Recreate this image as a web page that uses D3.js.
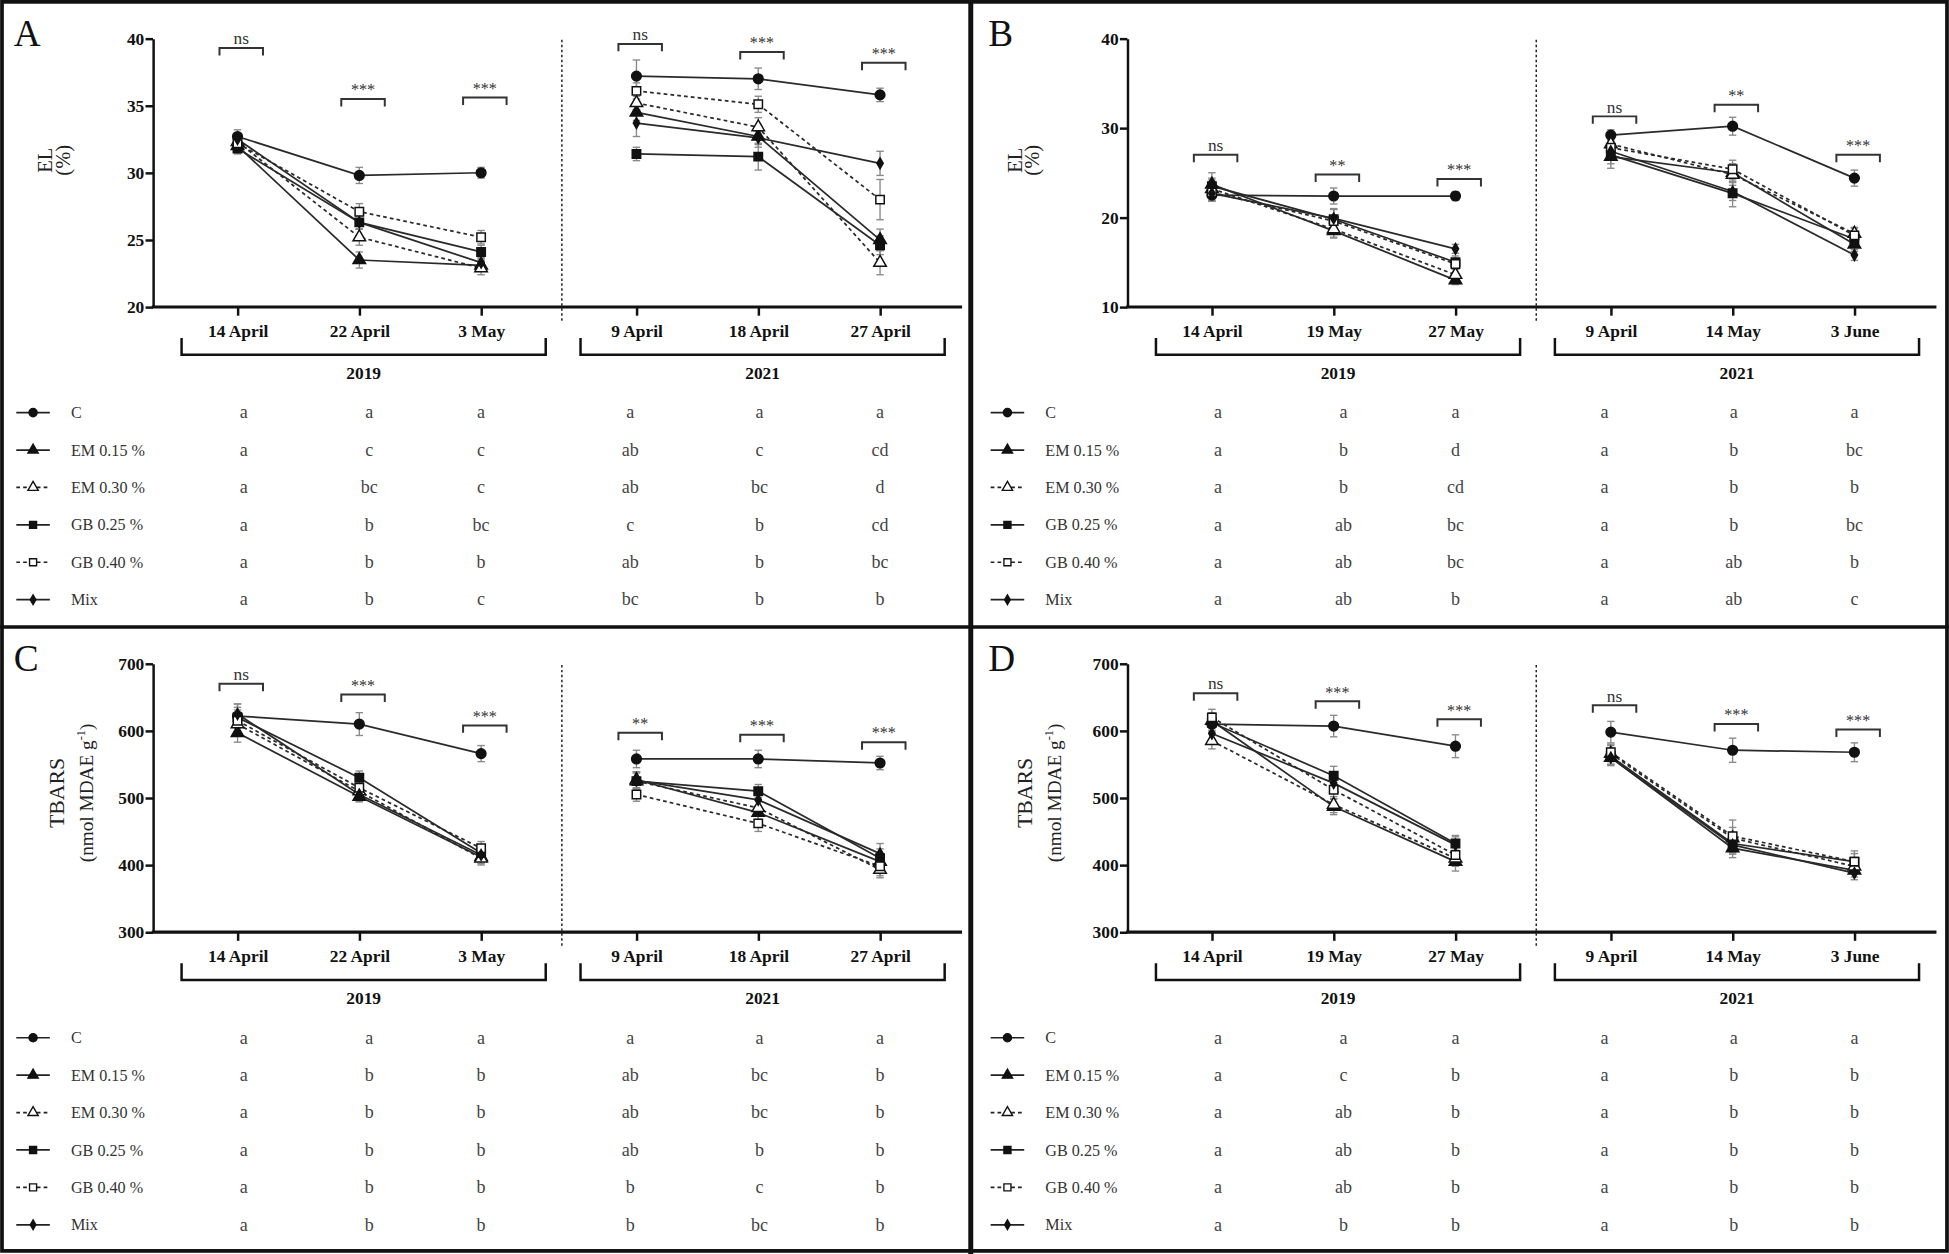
<!DOCTYPE html>
<html>
<head>
<meta charset="utf-8">
<script src="https://cdn.jsdelivr.net/npm/d3@7"></script>
<style>
  html, body { margin: 0; padding: 0; background: #fff; }
  svg { display: block; }
  text { font-family: "Liberation Serif", "Times New Roman", serif; }
</style>
</head>
<body>
<script>
// series, dates and years
const seriesNames = ["C", "EM 0.15 %", "EM 0.30 %", "GB 0.25 %", "GB 0.40 %", "Mix"];
const datesAC = ["14 April", "22 April", "3 May", "9 April", "18 April", "27 April"];
const datesBD = ["14 April", "19 May", "27 May", "9 April", "14 May", "3 June"];
const years = ["2019", "2021"];

// A : EL (%)
const elA = [
  [32.7, 29.8, 30.0, 37.2, 37.0, 35.8],
  [32.0, 23.5, 23.1, 34.5, 32.7, 25.0],
  [32.3, 25.2, 22.9, 35.2, 33.4, 23.3],
  [31.8, 26.3, 24.1, 31.4, 31.2, 24.6],
  [32.2, 27.1, 25.2, 36.1, 35.1, 28.0],
  [32.5, 26.3, 23.3, 33.7, 32.6, 30.7]
];
const elAErr = [
  [0.5, 0.6, 0.4, 1.2, 0.8, 0.5],
  [0.5, 0.6, 0.4, 0.6, 0.8, 0.8],
  [0.5, 0.6, 0.5, 0.5, 0.7, 0.9],
  [0.4, 0.5, 0.5, 0.5, 1.0, 0.7],
  [0.5, 0.6, 0.5, 0.6, 0.6, 1.5],
  [0.4, 0.5, 0.4, 1.0, 0.5, 0.9]
];
const lettersA = [
  ["a", "a", "a", "a", "a", "a"],
  ["a", "c", "c", "ab", "c", "cd"],
  ["a", "bc", "c", "ab", "bc", "d"],
  ["a", "b", "bc", "c", "b", "cd"],
  ["a", "b", "b", "ab", "b", "bc"],
  ["a", "b", "c", "bc", "b", "b"]
];
const sigTextA = ["ns", "***", "***", "ns", "***", "***"];
const sigLevelA = [39.3, 35.5, 35.6, 39.6, 39.0, 38.2];

// B : EL (%)
const elB = [
  [22.5, 22.4, 22.4, 29.2, 30.2, 24.4],
  [23.7, 18.5, 13.0, 26.8, 25.0, 17.0],
  [23.2, 18.7, 13.6, 28.2, 24.8, 18.2],
  [23.5, 19.8, 15.0, 27.0, 22.7, 17.6],
  [22.8, 19.6, 14.8, 27.8, 25.4, 18.0],
  [22.7, 19.9, 16.5, 27.4, 22.9, 15.8]
];
const elBErr = [
  [0.7, 0.9, 0.5, 0.6, 1.0, 0.9],
  [1.3, 0.8, 0.5, 0.8, 1.0, 0.8],
  [1.0, 0.9, 0.6, 0.9, 1.2, 0.7],
  [0.9, 1.2, 0.7, 1.5, 1.5, 0.7],
  [0.9, 1.3, 0.6, 1.0, 1.0, 0.8],
  [0.8, 1.0, 0.5, 0.8, 1.0, 0.6]
];
const lettersB = [
  ["a", "a", "a", "a", "a", "a"],
  ["a", "b", "d", "a", "b", "bc"],
  ["a", "b", "cd", "a", "b", "b"],
  ["a", "ab", "bc", "a", "b", "bc"],
  ["a", "ab", "bc", "a", "ab", "b"],
  ["a", "ab", "b", "a", "ab", "c"]
];
const sigTextB = ["ns", "**", "***", "ns", "**", "***"];
const sigLevelB = [27.0, 24.8, 24.3, 31.3, 32.6, 27.0];

// C : TBARS
const tbC = [
  [622, 610, 566, 558, 558, 552],
  [597, 502, 412, 527, 478, 405],
  [610, 510, 410, 525, 485, 393],
  [620, 530, 418, 525, 510, 410],
  [615, 515, 425, 505, 462, 398],
  [625, 505, 415, 526, 497, 417]
];
const tbCErr = [
  [18, 17, 12, 13, 13, 10],
  [14, 8, 10, 12, 10, 10],
  [15, 10, 10, 12, 12, 12],
  [15, 10, 10, 14, 10, 14],
  [16, 12, 10, 10, 12, 14],
  [15, 10, 10, 12, 10, 15]
];
const lettersC = [
  ["a", "a", "a", "a", "a", "a"],
  ["a", "b", "b", "ab", "bc", "b"],
  ["a", "b", "b", "ab", "bc", "b"],
  ["a", "b", "b", "ab", "b", "b"],
  ["a", "b", "b", "b", "c", "b"],
  ["a", "b", "b", "b", "bc", "b"]
];
const sigTextC = ["ns", "***", "***", "**", "***", "***"];
const sigLevelC = [670, 654, 608, 597, 594, 583];

// D : TBARS
const tbD = [
  [610, 607, 577, 598, 571, 568],
  [615, 487, 405, 560, 425, 392],
  [585, 490, 410, 566, 440, 398],
  [612, 533, 432, 562, 432, 405],
  [620, 512, 415, 568, 443, 405],
  [596, 522, 430, 560, 430, 388]
];
const tbDErr = [
  [12, 16, 17, 16, 18, 14],
  [12, 12, 14, 12, 14, 10],
  [12, 12, 12, 12, 16, 10],
  [12, 14, 12, 12, 14, 12],
  [12, 14, 12, 12, 24, 16],
  [12, 12, 12, 10, 14, 10]
];
const lettersD = [
  ["a", "a", "a", "a", "a", "a"],
  ["a", "c", "b", "a", "b", "b"],
  ["a", "ab", "b", "a", "b", "b"],
  ["a", "ab", "b", "a", "b", "b"],
  ["a", "ab", "b", "a", "b", "b"],
  ["a", "b", "b", "a", "b", "b"]
];
const sigTextD = ["ns", "***", "***", "ns", "***", "***"];
const sigLevelD = [656, 644, 617, 638, 610, 602];

const yTicksEL_A = [20, 25, 30, 35, 40];
const yTicksEL_B = [10, 20, 30, 40];
const yTicksTB = [300, 400, 500, 600, 700];

// marker / line styles per series
const markerTypes = [d3.symbolCircle, d3.symbolTriangle, d3.symbolTriangle, d3.symbolSquare, d3.symbolSquare, d3.symbolDiamond];
const markerFill = ["#111", "#111", "#fff", "#111", "#fff", "#111"];
const markerSize = [48, 44, 44, 46, 46, 22];
const legendSize = [34, 30, 30, 32, 32, 18];
const dashes = [null, null, "3,2.5", null, "3,2.5", null];

// layout is drawn in the 1568x1009 space of the figure, scaled by viewBox
const W = 1568, H = 1009;
const svg = d3.select("body").append("svg")
  .attr("width", 1949)
  .attr("height", 1254)
  .attr("viewBox", `0 0 ${W} ${H}`)
  .attr("font-family", "Liberation Serif, serif");

svg.append("rect").attr("width", W).attr("height", H).attr("fill", "#fff");

const panels = [
  {name: "A", ox: 0, oy: 0, dates: datesAC, values: elA, errors: elAErr, letters: lettersA,
   sigText: sigTextA, sigLevel: sigLevelA, yDomain: [20, 40], yTicks: yTicksEL_A, title: "EL", titleX: 42},
  {name: "B", ox: 784, oy: 0, dates: datesBD, values: elB, errors: elBErr, letters: lettersB,
   sigText: sigTextB, sigLevel: sigLevelB, yDomain: [10, 40], yTicks: yTicksEL_B, title: "EL", titleX: 38},
  {name: "C", ox: 0, oy: 503, dates: datesAC, values: tbC, errors: tbCErr, letters: lettersC,
   sigText: sigTextC, sigLevel: sigLevelC, yDomain: [300, 700], yTicks: yTicksTB, title: "TBARS", titleX: 51},
  {name: "D", ox: 784, oy: 503, dates: datesBD, values: tbD, errors: tbDErr, letters: lettersD,
   sigText: sigTextD, sigLevel: sigLevelD, yDomain: [300, 700], yTicks: yTicksTB, title: "TBARS", titleX: 46}
];

const letterCols = [196, 297, 387, 507, 611, 708];

function drawPanel(p) {
  const g = svg.append("g").attr("transform", `translate(${p.ox},${p.oy})`);

  const y = d3.scaleLinear().domain(p.yDomain).range([247, 31]);
  const x19 = d3.scalePoint().domain(p.dates.slice(0, 3)).range([191, 387]);
  const x21 = d3.scalePoint().domain(p.dates.slice(3)).range([512, 708]);
  const xAt = i => i < 3 ? x19(p.dates[i]) : x21(p.dates[i]);

  // panel letter
  g.append("text").attr("x", 11).attr("y", 37)
    .attr("font-size", 30).attr("fill", "#111").text(p.name);

  // y axis
  const ya = g.append("g").attr("transform", "translate(123,0)")
    .call(d3.axisLeft(y).tickValues(p.yTicks).tickSize(6).tickPadding(1).tickSizeOuter(0));
  ya.attr("font-family", "Liberation Serif, serif");
  ya.select(".domain").attr("stroke", "#111").attr("stroke-width", 2);
  ya.selectAll(".tick line").attr("stroke", "#111").attr("stroke-width", 2);
  ya.selectAll(".tick text").attr("font-weight", "bold")
    .attr("font-size", 14).attr("fill", "#111");

  // y title
  const tt = g.append("text")
    .attr("transform", `translate(${p.titleX},${p.title === "EL" ? 129 : 135}) rotate(-90)`)
    .attr("text-anchor", "middle").attr("fill", "#222");
  if (p.title === "EL") {
    tt.attr("font-size", 16.5);
    tt.append("tspan").attr("x", 0).attr("dy", 0).text("EL");
    tt.append("tspan").attr("x", 0).attr("dy", 14).text("(%)");
  } else {
    tt.attr("font-size", 17.5);
    tt.append("tspan").attr("x", 0).attr("dy", 0).text("TBARS");
    const t2 = tt.append("tspan").attr("x", 0).attr("dy", 24).attr("font-size", 15.5);
    t2.text("(nmol MDAE g");
    tt.append("tspan").attr("font-size", 10).attr("dy", -7).text("-1");
    tt.append("tspan").attr("font-size", 15.5).attr("dy", 7).text(")");
  }

  // x axis
  g.append("line").attr("x1", 122).attr("x2", 774).attr("y1", 247).attr("y2", 247)
    .attr("stroke", "#111").attr("stroke-width", 2.5);
  [x19, x21].forEach(sc => {
    const xa = g.append("g").attr("transform", "translate(0,247)")
      .call(d3.axisBottom(sc).tickSize(7).tickPadding(7));
    xa.attr("font-family", "Liberation Serif, serif");
    xa.select(".domain").remove();
    xa.selectAll(".tick line").attr("stroke", "#111").attr("stroke-width", 2);
    xa.selectAll(".tick text").attr("font-weight", "bold")
      .attr("font-size", 14).attr("fill", "#111");
  });

  // dotted separator between years
  g.append("line").attr("x1", 452).attr("x2", 452).attr("y1", 32).attr("y2", 258)
    .attr("stroke", "#222").attr("stroke-width", 1.2).attr("stroke-dasharray", "2,2");

  // year brackets
  [x19, x21].forEach((sc, k) => {
    const r = sc.range();
    const x1 = r[0] - 45, x2 = r[1] + 52;
    g.append("path").attr("d", `M${x1},272V285.5H${x2}V272`)
      .attr("fill", "none").attr("stroke", "#111").attr("stroke-width", 2);
    g.append("text").attr("x", (x1 + x2) / 2).attr("y", 305)
      .attr("text-anchor", "middle").attr("font-weight", "bold").attr("font-size", 14)
      .attr("fill", "#111").text(years[k]);
  });

  // significance brackets
  p.sigText.forEach((s, i) => {
    const cx = xAt(i) + 3, by = y(p.sigLevel[i]);
    g.append("path").attr("d", `M${cx - 17.5},${by + 6}V${by}H${cx + 17.5}V${by + 6}`)
      .attr("fill", "none").attr("stroke", "#333").attr("stroke-width", 1.6);
    g.append("text").attr("x", cx).attr("y", by - 3).attr("text-anchor", "middle")
      .attr("font-size", s === "ns" ? 14 : 13).attr("fill", "#333").text(s);
  });

  // error bars
  const eb = g.append("g").attr("stroke", "#8a8a8a").attr("stroke-width", 1.1);
  p.values.forEach((row, s) => {
    row.forEach((v, i) => {
      const e = p.errors[s][i], cx = xAt(i);
      const y1 = y(v + e), y2 = y(v - e);
      eb.append("line").attr("x1", cx).attr("x2", cx).attr("y1", y1).attr("y2", y2);
      eb.append("line").attr("x1", cx - 3).attr("x2", cx + 3).attr("y1", y1).attr("y2", y1);
      eb.append("line").attr("x1", cx - 3).attr("x2", cx + 3).attr("y1", y2).attr("y2", y2);
    });
  });

  // lines, one piece per year
  const line = d3.line().x(d => xAt(d.i)).y(d => y(d.v));
  p.values.forEach((row, s) => {
    const pts = row.map((v, i) => ({v, i}));
    [pts.slice(0, 3), pts.slice(3)].forEach(seg => {
      g.append("path").attr("d", line(seg)).attr("fill", "none")
        .attr("stroke", "#2a2a2a").attr("stroke-width", 1.4)
        .attr("stroke-dasharray", dashes[s]);
    });
  });

  // markers
  p.values.forEach((row, s) => {
    const sym = d3.symbol().type(markerTypes[s]).size(markerSize[s]);
    row.forEach((v, i) => {
      g.append("path").attr("d", sym())
        .attr("transform", `translate(${xAt(i)},${y(v)})`)
        .attr("fill", markerFill[s]).attr("stroke", "#111").attr("stroke-width", 1.2);
    });
  });

  // legend table with letters
  seriesNames.forEach((name, s) => {
    const ry = 332 + s * 30.1;
    g.append("line").attr("x1", 13).attr("x2", 40).attr("y1", ry).attr("y2", ry)
      .attr("stroke", "#222").attr("stroke-width", 1.4).attr("stroke-dasharray", dashes[s]);
    g.append("path").attr("d", d3.symbol().type(markerTypes[s]).size(legendSize[s])())
      .attr("transform", `translate(26.5,${ry})`)
      .attr("fill", markerFill[s]).attr("stroke", "#111").attr("stroke-width", 1.1);
    g.append("text").attr("x", 57).attr("y", ry).attr("dy", "0.35em")
      .attr("font-size", 13).attr("fill", "#333").text(name);
    p.letters[s].forEach((l, j) => {
      g.append("text").attr("x", letterCols[j]).attr("y", ry).attr("dy", "0.32em")
        .attr("text-anchor", "middle").attr("font-size", 14.5).attr("fill", "#444").text(l);
    });
  });
}

panels.forEach(drawPanel);

// frame and dividers
svg.append("rect").attr("x", 1.5).attr("y", 1.5).attr("width", W - 3).attr("height", H - 4)
  .attr("fill", "none").attr("stroke", "#111").attr("stroke-width", 3);
svg.append("line").attr("x1", 781).attr("x2", 781).attr("y1", 0).attr("y2", H)
  .attr("stroke", "#111").attr("stroke-width", 4);
svg.append("line").attr("x1", 0).attr("x2", W).attr("y1", 504.5).attr("y2", 504.5)
  .attr("stroke", "#111").attr("stroke-width", 3);
</script>
</body>
</html>
